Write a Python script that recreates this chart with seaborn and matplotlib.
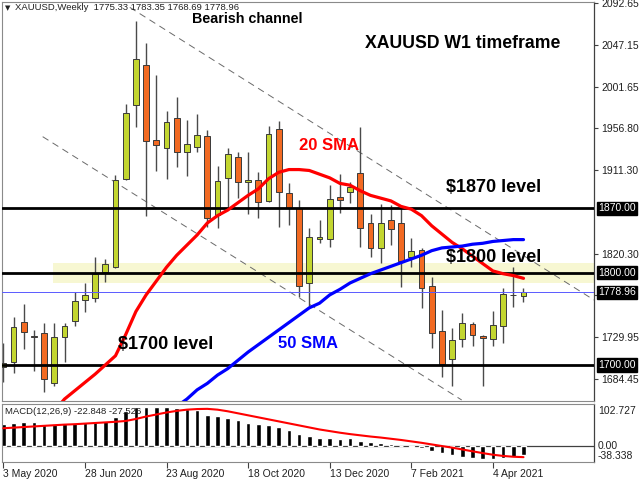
import numpy as np
import pandas as pd
import matplotlib
matplotlib.use("Agg")
import matplotlib.pyplot as plt
import seaborn as sns

# ---------------- data ----------------
bars = list(range(52))
opens = [1698.1, 1702.9, 1747.0, 1731.4, 1735.0, 1680.8, 1730.7, 1748.1, 1770.5, 1773.0,
         1801.2, 1806.6, 1901.8, 1981.7, 2025.1, 1943.8, 1935.4, 1968.0, 1931.4, 1936.8,
         1948.4, 1862.4, 1902.5, 1925.7, 1898.9, 1900.4, 1878.2, 1956.4, 1886.9, 1870.0,
         1788.6, 1836.4, 1836.7, 1881.9, 1887.4, 1908.3, 1854.0, 1827.3, 1857.3, 1854.4,
         1817.2, 1824.8, 1786.0, 1737.2, 1706.2, 1728.2, 1744.5, 1731.4, 1728.2, 1742.6,
         1775.9, 1775.33]
highs = [1723.5, 1752.4, 1766.2, 1737.9, 1745.9, 1745.2, 1745.9, 1779.5, 1788.6, 1817.5,
         1814.7, 1906.1, 1982.8, 2073.5, 2049.0, 2014.3, 1975.2, 1991.1, 1965.8, 1972.3,
         1954.9, 1916.2, 1935.4, 1931.4, 1930.8, 1909.7, 1959.3, 1965.0, 1897.8, 1879.0,
         1848.3, 1857.3, 1895.3, 1906.9, 1898.9, 1958.5, 1864.1, 1874.7, 1873.6, 1873.6,
         1837.4, 1826.9, 1795.5, 1759.7, 1739.8, 1756.1, 1746.3, 1733.0, 1758.9, 1783.2,
         1806.6, 1783.35]
lows = [1681.9, 1691.6, 1717.0, 1693.8, 1671.0, 1677.5, 1703.6, 1742.3, 1757.8, 1768.7,
        1789.7, 1804.9, 1900.7, 1958.5, 1861.6, 1910.5, 1901.8, 1915.1, 1905.4, 1931.4,
        1849.7, 1848.6, 1871.4, 1881.2, 1864.0, 1859.1, 1877.2, 1850.0, 1851.9, 1774.1,
        1764.0, 1832.0, 1828.3, 1864.6, 1875.4, 1827.7, 1816.8, 1810.3, 1830.2, 1784.9,
        1806.6, 1761.5, 1718.1, 1687.3, 1677.2, 1719.2, 1720.9, 1677.5, 1720.9, 1723.5,
        1763.2, 1768.69]
closes = [1701.8, 1741.6, 1735.4, 1730.0, 1684.5, 1730.7, 1742.3, 1769.4, 1775.6, 1798.4,
          1809.2, 1900.7, 1973.7, 2031.6, 1942.7, 1938.4, 1963.3, 1931.4, 1939.4, 1949.2,
          1859.8, 1900.0, 1928.9, 1898.0, 1900.4, 1877.2, 1950.6, 1888.0, 1870.0, 1786.0,
          1838.5, 1839.2, 1880.1, 1879.0, 1892.8, 1848.3, 1827.3, 1854.0, 1847.2, 1812.5,
          1823.7, 1783.2, 1734.4, 1700.7, 1727.1, 1745.2, 1732.5, 1728.9, 1743.4, 1776.7,
          1775.4, 1778.96]

sma20_bars = list(range(5, 52))
sma20 = [1650, 1663, 1672, 1681, 1690, 1700, 1710, 1733, 1758, 1776,
         1791, 1806, 1819, 1830, 1841, 1854, 1862, 1868, 1876, 1884,
         1891, 1902, 1909, 1912, 1912, 1911, 1907, 1903, 1897, 1895,
         1889, 1884, 1881, 1878, 1872, 1869, 1862, 1851, 1842, 1833,
         1826, 1818, 1810, 1802, 1799, 1797, 1794]

sma50_bars = list(range(17, 52))
sma50 = [1655, 1663, 1673, 1680, 1689, 1696, 1705, 1714, 1722, 1730,
         1738, 1746, 1754, 1762, 1767, 1776, 1782, 1789, 1794, 1799,
         1803, 1807, 1811, 1815, 1819, 1824, 1827, 1828, 1829, 1831,
         1832, 1834, 1835, 1836, 1836]

macd = [53.6, 56.9, 58.5, 60.1, 55.3, 53.6, 56.9, 56.9, 60.1, 61.8,
        61.8, 71.5, 87.8, 95.9, 97.5, 97.5, 97.5, 94.3, 91.8, 89.4,
        78.0, 73.1, 69.9, 63.4, 56.9, 53.6, 52.0, 47.1, 40.6, 29.3,
        24.4, 18.7, 18.7, 17.1, 18.7, 13.0, 8.9, 6.5, 5.7, 0.8,
        -1.6, -5.7, -11.4, -17.9, -22.8, -26.0, -29.3, -30.9, -30.9, -30.1,
        -27.6, -22.848]
signal = [44, 45.5, 47, 48.5, 50, 51.5, 53, 54, 55.5, 57,
          58.5, 60, 62, 67, 73, 78, 83, 87, 90, 91.5,
          92, 90, 86, 81, 76, 71, 66, 61, 56, 51,
          46, 41, 37, 33, 29.5, 26.5, 23.5, 21, 18, 15,
          11.5, 8, 4, 0, -4, -8.5, -13, -17.5, -21.5, -24.5,
          -26.5, -27.526]

levels = [1870.0, 1800.0, 1700.0]
current_price = 1778.96
band_lo, band_hi, band_start = 1788.6, 1811.0, 4.9
channel_upper_x = [12.4, 57.91]
channel_upper_y = [2088.0, 1770.5]
channel_lower_x = [3.86, 44.94]
channel_lower_y = [1947.7, 1662.0]

price_ticks = [2092.65, 2047.15, 2001.65, 1956.80, 1911.30, 1820.30, 1775.45, 1729.95, 1684.45]
date_tick_bars = [0, 8, 16, 24, 32, 40, 48]
date_labels = ['3 May 2020', '28 Jun 2020', '23 Aug 2020', '18 Oct 2020',
               '13 Dec 2020', '7 Feb 2021', '4 Apr 2021']

# ---------------- style ----------------
sns.set_theme(style="white")
plt.rcParams['font.family'] = ['Liberation Sans', 'DejaVu Sans']

W, H = 640, 480
fig = plt.figure(figsize=(6.4, 4.8), dpi=100)
fig.patch.set_facecolor('white')

def fx(px):
    return px / W

def fy(py):
    return 1 - py / H

ax = fig.add_axes([fx(2), fy(401), fx(594) - fx(2), fy(2) - fy(401)])
axm = fig.add_axes([fx(2), fy(462), fx(594) - fx(2), fy(404) - fy(462)])

x0 = 3.3
step = 10.2
xlim = ((2 - x0) / step, (594 - x0) / step)

GREEN = '#c3d630'
ORANGE = '#f26a22'
EDGE = '#3a3a3a'

# band
ax.fill_between([band_start, xlim[1]], band_lo, band_hi, color='#f7f7d2', zorder=0, lw=0)

# channel lines
ax.plot(channel_upper_x, channel_upper_y, color='#6a6a6a', lw=0.7, dashes=(7, 5), zorder=1)
ax.plot(channel_lower_x, channel_lower_y, color='#6a6a6a', lw=0.7, dashes=(7, 5), zorder=1)

# candles
ax.vlines(bars, lows, highs, color='#4a4a4a', lw=1.0, zorder=2)
for i, o, c in zip(bars, opens, closes):
    col = GREEN if c >= o else ORANGE
    h = abs(c - o)
    ax.bar(i, max(h, 0.6), bottom=min(o, c), width=0.58, color=col,
           edgecolor=EDGE, linewidth=0.7, zorder=3)

# horizontal levels
for lv in levels:
    ax.axhline(lv, color='black', lw=2.0, zorder=4)
ax.axhline(current_price, color='#5a5aff', lw=0.7, zorder=4)

# SMAs
sns.lineplot(x=sma20_bars, y=sma20, ax=ax, color='#ff0000', lw=2.3, zorder=5, legend=False)
sns.lineplot(x=sma50_bars, y=sma50, ax=ax, color='#0000ff', lw=2.3, zorder=5, legend=False)

ax.set_xlim(*xlim)
ax.set_ylim(1660.9, 2093.8)
ax.set_xticks([])
ax.yaxis.tick_right()
ax.set_yticks(price_ticks)
ax.set_yticklabels([f"{t:.2f}" for t in price_ticks])
ax.tick_params(axis='y', right=True, length=3, width=0.8, color='#404040',
               labelsize=7.5, labelcolor='#202020', pad=2)
ax.set_xlabel('')
ax.set_ylabel('')
for s in ['left', 'top', 'bottom']:
    ax.spines[s].set_color('#8a8a8a')
    ax.spines[s].set_linewidth(0.8)
ax.spines['right'].set_color('#404040')
ax.spines['right'].set_linewidth(0.9)

# boxed price labels
for val, txt in [(1870.0, '1870.00'), (1800.0, '1800.00'), (current_price, '1778.96'), (1700.0, '1700.00')]:
    ax.annotate(txt, xy=(1.0, val), xycoords=('axes fraction', 'data'),
                xytext=(3, 0), textcoords='offset points', ha='left', va='center',
                fontsize=7.5, color='white', annotation_clip=False, zorder=10,
                bbox=dict(boxstyle='square,pad=0.15', facecolor='black', edgecolor='black'))

# MACD panel
axm.bar(bars, macd, width=0.46, color='black', zorder=2)
axm.axhline(0, color='#404040', lw=0.9, zorder=1)
sns.lineplot(x=bars, y=signal, ax=axm, color='#ff0000', lw=1.5, zorder=3, legend=False)
axm.set_xlim(*xlim)
axm.set_ylim(-39.5, 104)
axm.set_yticks([])
axm.set_xticks(date_tick_bars)
axm.set_xticklabels(date_labels, ha='left')
axm.tick_params(axis='x', bottom=True, length=4, width=0.8, color='#404040',
                labelsize=7.5, labelcolor='#202020', pad=1)
axm.set_xlabel('')
axm.set_ylabel('')
for s in ['left', 'top', 'bottom']:
    axm.spines[s].set_color('#8a8a8a')
    axm.spines[s].set_linewidth(0.8)
axm.spines['right'].set_color('#404040')
axm.spines['right'].set_linewidth(0.9)

fig.text(fx(598), fy(411), '102.727', fontsize=7.5, color='#202020', va='center', ha='left')
fig.text(fx(598), fy(446), '0.00', fontsize=7.5, color='#202020', va='center', ha='left')
fig.text(fx(598), fy(456), '-38.338', fontsize=7.5, color='#202020', va='center', ha='left')

# header texts
fig.text(fx(5), fy(8), '\u25bc', fontsize=5, color='#202020', va='center', ha='left',
         family=['DejaVu Sans'])
fig.text(fx(15), fy(8), 'XAUUSD,Weekly  1775.33 1783.35 1768.69 1778.96', fontsize=6.8,
         color='#202020', va='center', ha='left')
fig.text(fx(5), fy(411), 'MACD(12,26,9) -22.848 -27.526', fontsize=6.8,
         color='#202020', va='center', ha='left')

# annotations
fig.text(fx(192), fy(19), 'Bearish channel', fontsize=10.3, fontweight='bold', color='black', va='center', ha='left')
fig.text(fx(365), fy(44), 'XAUUSD W1 timeframe', fontsize=12.7, fontweight='bold', color='black', va='center', ha='left')
fig.text(fx(299), fy(146), '20 SMA', fontsize=12, fontweight='bold', color='#ff0000', va='center', ha='left')
fig.text(fx(278), fy(343), '50 SMA', fontsize=12, fontweight='bold', color='#0000ff', va='center', ha='left')
fig.text(fx(446), fy(187.5), '$1870 level', fontsize=13, fontweight='bold', color='black', va='center', ha='left')
fig.text(fx(446), fy(257.5), '$1800 level', fontsize=13, fontweight='bold', color='black', va='center', ha='left')
fig.text(fx(118), fy(344.5), '$1700 level', fontsize=13, fontweight='bold', color='black', va='center', ha='left')

fig.savefig('out.png', dpi=100, facecolor='white')
